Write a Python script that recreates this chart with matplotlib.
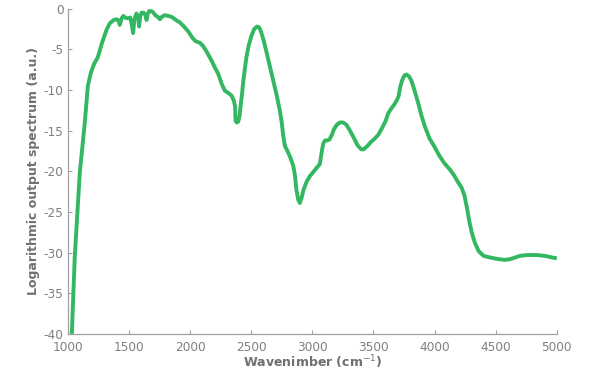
import numpy as np
import matplotlib
matplotlib.use('Agg')
import matplotlib.pyplot as plt

plt.rcParams['font.family'] = ['Liberation Sans Narrow', 'DejaVu Sans']
plt.rcParams['axes.unicode_minus'] = False

# wavenumber (cm^-1) and log output spectrum (a.u.)
wavenumber = [1033, 1057, 1098, 1139, 1164, 1190, 1215, 1245, 1278, 1317,
              1344, 1375, 1400, 1415, 1425, 1440, 1455, 1470, 1490, 1510,
              1522, 1534, 1545, 1562, 1575, 1583, 1592, 1603, 1620, 1635,
              1644, 1655, 1665, 1680, 1696, 1715, 1735, 1753, 1770, 1794,
              1820, 1848, 1885, 1917, 1950, 1985, 2020, 2045, 2080, 2107,
              2140, 2176, 2205, 2230, 2260, 2285, 2315, 2340, 2358, 2368,
              2372, 2382, 2394, 2405, 2413, 2425, 2435, 2450, 2462, 2480,
              2503, 2525, 2548, 2565, 2580, 2600, 2620, 2653, 2680, 2708,
              2735, 2750, 2762, 2776, 2800, 2820, 2844, 2858, 2870, 2885,
              2898, 2912, 2930, 2953, 2980, 3007, 3040, 3062, 3075, 3089,
              3105, 3125, 3140, 3158, 3178, 3200, 3225, 3253, 3280, 3308,
              3340, 3370, 3400, 3420, 3450, 3480, 3510, 3540, 3570, 3600,
              3620, 3645, 3670, 3690, 3705, 3720, 3735, 3755, 3770, 3790,
              3812, 3835, 3866, 3890, 3921, 3960, 4000, 4040, 4080, 4126,
              4160, 4190, 4221, 4245, 4265, 4285, 4305, 4330, 4360, 4400,
              4453, 4520, 4576, 4620, 4660, 4700, 4760, 4835, 4900, 4960,
              5000]
spectrum = [-40, -30.5, -20.2, -14, -9.5, -7.8, -6.8, -6.0, -4.3, -2.6,
            -1.8, -1.4, -1.3, -1.5, -2.0, -1.2, -0.9, -1.1, -1.2, -1.1,
            -1.8, -3.0, -1.3, -0.6, -1.0, -2.2, -1.0, -0.5, -0.5, -0.8,
            -1.4, -0.6, -0.3, -0.3, -0.4, -0.8, -1.0, -1.3, -1.0, -0.8,
            -0.9, -1.0, -1.4, -1.7, -2.2, -2.8, -3.6, -4.0, -4.2, -4.6,
            -5.4, -6.4, -7.3, -8.0, -9.3, -10.1, -10.4, -10.7, -11.3, -12.0,
            -13.8, -14.0, -13.9, -13.2, -12.0, -10.5, -9.0, -7.2, -5.9, -4.5,
            -3.3, -2.5, -2.2, -2.3, -2.8, -3.8, -5.0, -7.1, -8.8, -10.6,
            -12.6, -14.0, -15.6, -16.9, -17.6, -18.3, -19.3, -20.5, -22.3, -23.5,
            -23.9, -23.3, -22.2, -21.3, -20.6, -20.1, -19.5, -19.1, -17.8, -16.6,
            -16.2, -16.2, -16.1, -15.6, -14.8, -14.3, -14.0, -14.0, -14.3, -15.0,
            -15.9, -16.8, -17.3, -17.3, -16.9, -16.4, -16.0, -15.5, -14.7, -13.8,
            -12.9, -12.3, -11.8, -11.3, -10.8, -9.6, -8.8, -8.2, -8.1, -8.3,
            -8.9, -10.0, -11.6, -13.0, -14.5, -16.0, -17.0, -18.1, -19.0, -19.8,
            -20.5, -21.3, -22.0, -23.0, -24.5, -26.2, -27.6, -28.8, -29.8, -30.4,
            -30.6, -30.8, -30.9, -30.8, -30.6, -30.4, -30.3, -30.3, -30.4, -30.6,
            -30.7]

x_ticks = [1000, 1500, 2000, 2500, 3000, 3500, 4000, 4500, 5000]
y_ticks = [0, -5, -10, -15, -20, -25, -30, -35, -40]

gray = '#808080'

fig = plt.figure(figsize=(6, 3.76), dpi=100)
ax = fig.add_axes([0.113, 0.112, 0.815, 0.865])

ax.plot(wavenumber, spectrum, color='#33b760', linewidth=2.8,
        solid_joinstyle='round', solid_capstyle='butt', clip_on=False)

ax.set_xlim(1000, 5000)
ax.set_ylim(-40, 0)
ax.set_xticks(x_ticks)
ax.set_yticks(y_ticks)
ax.set_yticklabels([str(v) for v in y_ticks])

for side in ['top', 'right']:
    ax.spines[side].set_visible(False)
for side in ['left', 'bottom']:
    ax.spines[side].set_color('#a0a0a0')
    ax.spines[side].set_linewidth(0.9)

ax.tick_params(direction='in', length=3, width=0.8, color='#a0a0a0',
               labelcolor=gray, labelsize=8.7)
ax.tick_params(axis='y', pad=3)
ax.tick_params(axis='x', pad=5)

ax.set_xlabel('Wavenimber (cm$^{-1}$)', color='#707070', fontsize=9,
              fontweight='bold', labelpad=0)
ax.set_ylabel('Logarithmic output spectrum (a.u.)', color='#707070',
              fontsize=9, fontweight='bold', labelpad=3)

plt.savefig('out.png', dpi=100)
